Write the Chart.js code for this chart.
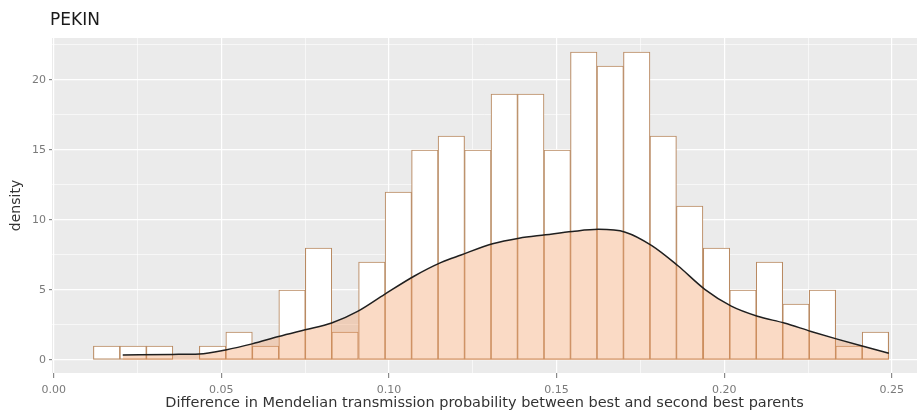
<!DOCTYPE html>
<html>
<head>
<meta charset="utf-8">
<title>PEKIN</title>
<script src="https://cdn.jsdelivr.net/npm/chart.js@4.4.1/dist/chart.umd.min.js"></script>
<style>
    html, body { margin: 0; padding: 0; background: #ffffff; }
    #wrap { width: 921px; height: 417px; position: relative; }
</style>
</head>
<body>
<div id="wrap"><canvas id="chart"></canvas></div>
<script>
// Histogram bins (bin centres) and heights
const binCenters = [
    0.0158, 0.0237, 0.0316, 0.0395, 0.0474, 0.0553, 0.0632, 0.0711, 0.0790, 0.0869,
    0.0949, 0.1028, 0.1107, 0.1186, 0.1265, 0.1344, 0.1423, 0.1502, 0.1581, 0.1660,
    0.1739, 0.1818, 0.1897, 0.1977, 0.2056, 0.2135, 0.2214, 0.2293, 0.2372, 0.2451
];
const binHeights = [
    1, 1, 1, 0, 1, 2, 1, 5, 8, 2,
    7, 12, 15, 16, 15, 19, 19, 15, 22, 21,
    22, 16, 11, 8, 5, 7, 4, 5, 1, 2
];

// Density curve
const densityX = [
    0.0206, 0.0355, 0.0434, 0.0513, 0.0592, 0.0671, 0.0750, 0.0829, 0.0908, 0.0987,
    0.1076, 0.1156, 0.1215, 0.1309, 0.1388, 0.1467, 0.1547, 0.1625, 0.1705, 0.1784,
    0.1862, 0.1942, 0.2021, 0.2099, 0.2179, 0.2259, 0.2337, 0.2417, 0.2491
];
const densityY = [
    0.36, 0.40, 0.43, 0.72, 1.15, 1.68, 2.16, 2.64, 3.49, 4.69,
    6.00, 6.97, 7.50, 8.30, 8.70, 8.94, 9.18, 9.33, 9.13, 8.17,
    6.73, 5.05, 3.85, 3.13, 2.64, 2.04, 1.49, 0.96, 0.48
];

const xTickLabels = ['0.00', '0.05', '0.10', '0.15', '0.20', '0.25'];
const yTickLabels = ['0', '5', '10', '15', '20'];

const PANEL_BG = '#ebebeb';
const BAR_EDGE = '#b98a62';
const FONT = '"DejaVu Sans", sans-serif';

function isMajor(value, step) {
    const r = value / step;
    return Math.abs(r - Math.round(r)) < 1e-6;
}

// scriptable helper: context may have no tick (e.g. scale-level calls)
function tickIsMajor(c, step) {
    return !!(c && c.tick && isMajor(c.tick.value, step));
}

// grey panel + plot title
const panelPlugin = {
    id: 'panel',
    beforeDraw(chart) {
        const { ctx, chartArea } = chart;
        ctx.save();
        ctx.fillStyle = PANEL_BG;
        ctx.fillRect(chartArea.left, chartArea.top,
            chartArea.right - chartArea.left, chartArea.bottom - chartArea.top);
        ctx.restore();
    },
    afterDraw(chart) {
        const ctx = chart.ctx;
        ctx.save();
        ctx.fillStyle = '#1a1a1a';
        ctx.font = '17px ' + FONT;
        ctx.textBaseline = 'middle';
        ctx.fillText('PEKIN', 50, 21);
        ctx.restore();
    }
};

const ctx = document.getElementById('chart').getContext('2d');
const chart = new Chart(ctx, {
    data: {
        datasets: [{
            type: 'line',
            label: 'density',
            data: densityX.map((x, i) => ({ x: x, y: densityY[i] })),
            borderColor: '#1f1f1f',
            borderWidth: 1.5,
            backgroundColor: 'rgba(240, 150, 90, 0.35)',
            fill: 'origin',
            pointRadius: 0,
            cubicInterpolationMode: 'monotone',
            order: 0
        }, {
            type: 'bar',
            label: 'count',
            data: binCenters.map((x, i) => ({ x: x, y: binHeights[i] })),
            backgroundColor: '#ffffff',
            borderColor: BAR_EDGE,
            borderWidth: 1.1,
            borderSkipped: false,
            barPercentage: 1.0,
            categoryPercentage: 1.0,
            order: 1
        }]
    },
    options: {
        responsive: true,
        maintainAspectRatio: false,
        animation: false,
        layout: {
            padding: { top: 38, right: 4, left: 0, bottom: 0 }
        },
        plugins: {
            legend: { display: false },
            tooltip: { enabled: false }
        },
        scales: {
            x: {
                type: 'linear',
                min: -0.0005,
                max: 0.2575,
                offset: false,
                afterFit(scale) { scale.height = 44; },
                border: { display: false },
                grid: {
                    offset: false,
                    color: '#ffffff',
                    lineWidth: (c) => tickIsMajor(c, 0.05) ? 1.2 : 0.6,
                    tickLength: 5,
                    tickColor: (c) => tickIsMajor(c, 0.05) ? '#8a8a8a' : 'rgba(0,0,0,0)'
                },
                ticks: {
                    stepSize: 0.025,
                    includeBounds: false,
                    maxRotation: 0,
                    autoSkip: false,
                    padding: 6,
                    color: '#7a7a7a',
                    font: { size: 11, family: FONT },
                    callback: (v) => isMajor(v, 0.05) ? xTickLabels[Math.round(v / 0.05)] : ''
                },
                title: {
                    display: true,
                    text: 'Difference in Mendelian transmission probability between best and second best parents',
                    color: '#333333',
                    font: { size: 14.5, family: FONT },
                    padding: { top: 0, bottom: 5 }
                }
            },
            y: {
                type: 'linear',
                min: -0.93,
                max: 23.0,
                afterFit(scale) { scale.width = 52; },
                border: { display: false },
                grid: {
                    color: '#ffffff',
                    lineWidth: (c) => tickIsMajor(c, 5) ? 1.2 : 0.6,
                    tickLength: 3,
                    tickColor: (c) => tickIsMajor(c, 5) ? '#8a8a8a' : 'rgba(0,0,0,0)'
                },
                ticks: {
                    stepSize: 2.5,
                    includeBounds: false,
                    autoSkip: false,
                    padding: 3,
                    color: '#7a7a7a',
                    font: { size: 11, family: FONT },
                    callback: (v) => isMajor(v, 5) ? yTickLabels[Math.round(v / 5)] : ''
                },
                title: {
                    display: true,
                    text: 'density',
                    color: '#333333',
                    font: { size: 14, family: FONT },
                    padding: { top: 8, bottom: 0 }
                }
            }
        }
    },
    plugins: [panelPlugin]
});
</script>
</body>
</html>
